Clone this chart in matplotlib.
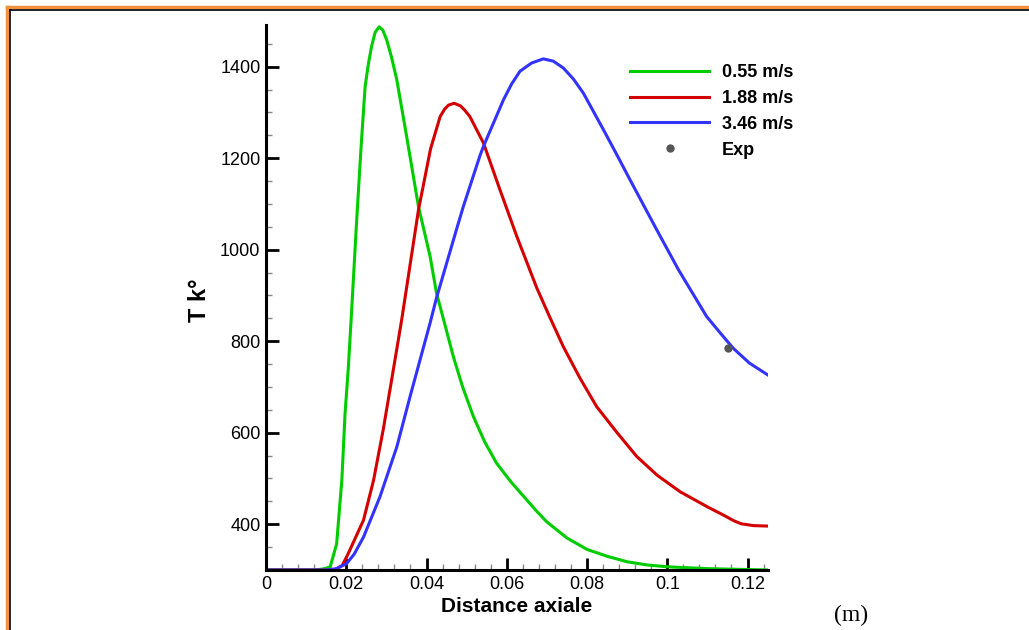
import numpy as np
import matplotlib
matplotlib.use("Agg")
import matplotlib.pyplot as plt
from matplotlib.lines import Line2D
from matplotlib.ticker import MultipleLocator, FormatStrFormatter

plt.rcParams['font.family'] = ['Liberation Sans', 'DejaVu Sans']

# 0.55 m/s
x_green = [0, 0.012, 0.013, 0.014, 0.015, 0.016, 0.0176, 0.0189, 0.0197, 0.0205, 0.0213, 0.0226,
           0.0237, 0.0247, 0.0255, 0.0263, 0.0272, 0.0282, 0.0291, 0.0301, 0.0313, 0.0326,
           0.035, 0.038, 0.0409, 0.0425, 0.0442, 0.0467, 0.049, 0.0517, 0.0545, 0.0575,
           0.061, 0.0646, 0.0675, 0.07, 0.075, 0.08, 0.085, 0.09, 0.095, 0.1, 0.11, 0.125]
t_green = [300, 300, 301, 302, 304, 307, 357, 496, 642, 740, 860, 1065,
           1225, 1356, 1405, 1444, 1475, 1487, 1480, 1458, 1420, 1371,
           1250, 1094, 985, 905, 849, 766, 700, 635, 580, 533,
           493, 457, 428, 405, 370, 345, 330, 318, 311, 307, 303, 300]

# 1.88 m/s
x_red = [0, 0.017, 0.019, 0.0205, 0.0243, 0.0268, 0.0292, 0.0313, 0.0338, 0.038, 0.041,
         0.0434, 0.0445, 0.0455, 0.0469, 0.0485, 0.0495, 0.0508, 0.0542, 0.0583, 0.0625,
         0.0675, 0.0708, 0.0741, 0.0782, 0.0824, 0.0875, 0.0924, 0.0975, 0.1032, 0.11,
         0.114, 0.1165, 0.1184, 0.1215, 0.125]
t_red = [300, 300, 310, 336, 409, 496, 606, 715, 846, 1087, 1220,
         1291, 1307, 1316, 1320, 1314, 1305, 1291, 1233, 1131, 1029,
         916, 851, 788, 720, 657, 600, 548, 507, 471, 438,
         420, 408, 401, 397, 396]

# 3.46 m/s
x_blue = [0, 0.015, 0.0176, 0.0201, 0.022, 0.0243, 0.0284, 0.0326, 0.0359, 0.0409, 0.0425,
          0.0475, 0.0492, 0.0533, 0.0542, 0.0592, 0.0612, 0.0633, 0.0662, 0.0691, 0.0716,
          0.0741, 0.0766, 0.0791, 0.0841, 0.0874, 0.0907, 0.0974, 0.1028, 0.1098, 0.1132,
          0.1165, 0.1205, 0.1251]
t_blue = [300, 300, 303, 314, 335, 372, 460, 569, 679, 840, 895,
          1045, 1095, 1205, 1226, 1328, 1362, 1390, 1408, 1417, 1412,
          1397, 1373, 1342, 1262, 1208, 1153, 1043, 956, 854, 818,
          784, 752, 726]

# experimental point
x_exp = [0.1152]
t_exp = [786]

labels = ['0.55 m/s', '1.88 m/s', '3.46 m/s', 'Exp']

fig = plt.figure(figsize=(10.29, 6.30), dpi=100)
fig.patch.set_facecolor('white')

# page frame (orange + black inner line)
fig.add_artist(Line2D([7/1029, 7/1029], [0, 1 - 7/630], color='#f4923c', lw=2.5))
fig.add_artist(Line2D([7/1029, 1], [1 - 7/630, 1 - 7/630], color='#f4923c', lw=2.5))
fig.add_artist(Line2D([10/1029, 10/1029], [0, 1 - 10/630], color='black', lw=1.2))
fig.add_artist(Line2D([10/1029, 1], [1 - 10/630, 1 - 10/630], color='black', lw=1.2))

ax = fig.add_axes([266/1029, 60/630, 502/1029, 545/630])
ax.plot(x_green, t_green, color='#00cc00', lw=2.2, label=labels[0])
ax.plot(x_red, t_red, color='#d40000', lw=2.2, label=labels[1])
ax.plot(x_blue, t_blue, color='#3333ff', lw=2.2, label=labels[2])
ax.plot(x_exp, t_exp, 'o', color='#555555', ms=5, label=labels[3])

ax.set_xlim(0, 0.1251)
ax.set_ylim(300, 1491)
ax.spines['top'].set_visible(False)
ax.spines['right'].set_visible(False)
ax.spines['left'].set_linewidth(2.2)
ax.spines['bottom'].set_linewidth(2.2)

ax.xaxis.set_major_locator(MultipleLocator(0.02))
ax.xaxis.set_minor_locator(MultipleLocator(0.004))
ax.xaxis.set_major_formatter(FormatStrFormatter('%g'))
ax.yaxis.set_minor_locator(MultipleLocator(50))
ax.set_yticks([400, 600, 800, 1000, 1200, 1400])
ax.tick_params(which='major', direction='in', length=9, width=2, color='black',
               labelsize=13, pad=4)
ax.tick_params(which='minor', direction='in', length=4.5, width=1, color='#888888')

ax.set_xlabel('Distance axiale', fontsize=15, fontweight='bold')
ax.set_ylabel('T k°', fontsize=17, fontweight='bold')
ax.xaxis.set_label_coords(0.5, -0.05)
ax.yaxis.set_label_coords(-0.11, 0.495)

ax.legend(loc='upper left', bbox_to_anchor=(630/1029, 1 - 64/630), bbox_transform=fig.transFigure,
          frameon=False, prop={'weight': 'bold', 'size': 13}, handlelength=4.4,
          handletextpad=0.7, labelspacing=0.49, borderpad=0, borderaxespad=0, numpoints=1)

fig.text(851/1029, 1 - 615/630, '(m)', family='Liberation Serif', fontsize=17,
         ha='center', va='center')

fig.savefig('out.png', dpi=100, facecolor='white')
